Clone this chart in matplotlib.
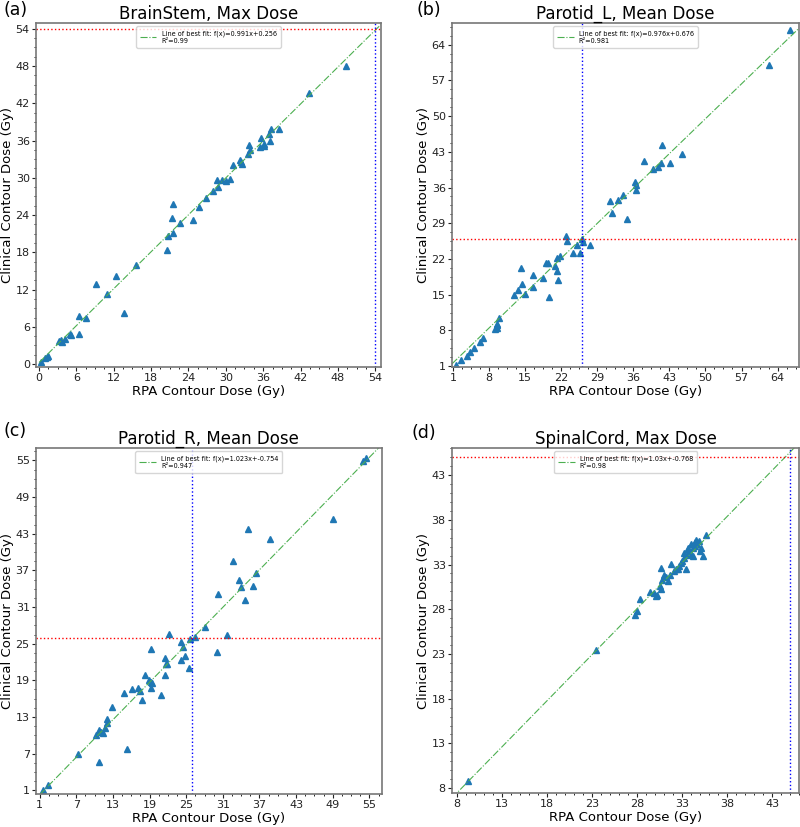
import numpy as np
import matplotlib
matplotlib.use("Agg")
import matplotlib.pyplot as plt

# BrainStem, Max Dose (RPA vs clinical)
brainstem_rpa = [0.27, 0.96, 1.44, 1.3, 3.26, 3.53, 3.74, 4.2, 4.9, 5.1, 6.4, 6.4, 7.6,
                 9.15, 10.97, 12.3, 13.7, 15.6, 20.5, 20.65, 21.3, 21.5, 21.5, 22.7,
                 24.7, 25.7, 26.8, 28.0, 28.8, 28.6, 29.4, 30.1, 30.7, 31.2, 32.3, 32.5,
                 32.6, 33.7, 33.6, 33.9, 35.5, 35.7, 36.1, 36.1, 37.0, 37.1, 37.3, 38.6,
                 43.4, 49.3]
brainstem_clin = [0.26, 0.9, 1.33, 1.1, 3.7, 3.8, 3.54, 4.1, 4.8, 4.76, 7.76, 4.87, 7.44,
                  12.9, 11.3, 14.2, 8.3, 16.0, 18.4, 20.7, 23.6, 25.7, 21.06, 22.7,
                  23.25, 25.3, 26.8, 27.9, 28.5, 29.7, 29.7, 29.5, 29.8, 32.0, 32.8, 32.6,
                  32.3, 35.3, 33.9, 34.5, 34.9, 36.4, 35.1, 35.5, 37.0, 36.0, 37.8, 37.8,
                  43.7, 47.96]

# Parotid_L, Mean Dose
parotid_l_rpa = [1.52, 2.5, 3.66, 4.24, 5.15, 6.2, 6.77, 9.16, 9.5, 9.5, 9.6, 9.9, 12.8,
                 13.6, 14.4, 14.1, 14.9, 16.5, 16.5, 18.4, 19.1, 19.4, 19.6, 20.7, 21.1,
                 21.4, 21.1, 21.7, 23.0, 23.1, 24.2, 25.1, 25.6, 26.1, 26.2, 27.6, 31.4,
                 31.8, 33.0, 33.95, 34.7, 36.4, 36.5, 36.5, 38.1, 39.9, 40.7, 41.3, 41.6,
                 43.1, 45.5, 62.3, 66.5]
parotid_l_clin = [1.14, 2.25, 2.9, 3.87, 4.5, 5.7, 6.6, 8.36, 8.5, 9.0, 9.3, 10.4, 14.9,
                  16.0, 17.0, 20.2, 15.1, 16.5, 18.8, 18.2, 21.2, 21.2, 14.55, 20.7, 19.7,
                  17.9, 22.2, 22.6, 26.5, 25.6, 23.1, 24.8, 23.1, 25.9, 25.3, 24.8, 33.3,
                  31.1, 33.6, 34.5, 29.9, 37.0, 36.4, 35.45, 41.2, 39.7, 40.0, 40.8, 44.4,
                  40.8, 42.5, 60.1, 66.9]

# Parotid_R, Mean Dose
parotid_r_rpa = [1.54, 2.3, 7.2, 10.7, 10.2, 10.7, 11.1, 11.4, 11.65, 12.0, 12.0, 12.9,
                 15.3, 14.75, 16.1, 17.1, 17.5, 17.7, 18.3, 18.9, 19.2, 19.4, 19.2, 19.2,
                 20.8, 21.5, 21.5, 21.7, 21.9, 22.2, 24.2, 24.2, 24.5, 24.8, 25.5, 25.7,
                 26.45, 28.1, 30.1, 30.25, 31.7, 32.6, 33.6, 33.9, 34.6, 35.1, 36.0, 36.5,
                 38.7, 49.1, 54.0, 54.4]
parotid_r_clin = [1.0, 1.9, 7.0, 5.7, 10.0, 10.9, 10.6, 10.4, 11.2, 12.0, 12.65, 14.6,
                  7.75, 16.9, 17.5, 17.7, 17.3, 15.7, 19.8, 19.0, 18.7, 18.5, 17.7, 24.2,
                  16.6, 19.8, 22.6, 21.7, 21.75, 26.6, 22.3, 25.2, 24.5, 23.0, 21.0, 25.8,
                  26.05, 27.7, 23.7, 33.2, 26.5, 38.5, 35.4, 34.2, 32.1, 43.8, 34.4, 36.5,
                  42.2, 45.4, 54.9, 55.4]

# SpinalCord, Max Dose
spinal_rpa = [9.26, 23.4, 27.8, 28.0, 28.3, 29.4, 29.9, 30.06, 30.2, 30.5, 30.7, 30.6,
              30.8, 31.0, 31.25, 31.4, 31.65, 31.8, 32.1, 32.3, 32.5, 32.7, 32.9, 33.0,
              33.2, 33.2, 33.4, 33.5, 33.65, 33.8, 33.95, 34.2, 34.2, 34.4, 34.5, 34.7,
              34.9, 34.95, 35.3, 35.1, 35.6, 33.7, 34.0, 34.4]
spinal_clin = [8.78, 23.5, 27.4, 27.8, 29.1, 29.9, 29.8, 29.5, 29.6, 30.6, 30.3, 32.6,
               31.3, 31.8, 31.6, 31.2, 31.8, 33.1, 32.3, 32.5, 32.5, 32.8, 33.2, 33.4,
               33.7, 34.3, 32.5, 34.1, 34.7, 34.3, 34.2, 33.9, 34.8, 35.5, 35.7, 35.3,
               35.6, 34.5, 34.0, 34.9, 36.3, 34.9, 35.3, 35.1]

titles = ["BrainStem, Max Dose", "Parotid_L, Mean Dose",
          "Parotid_R, Mean Dose", "SpinalCord, Max Dose"]
panel_tags = ["(a)", "(b)", "(c)", "(d)"]
fit_slopes = [0.991, 0.976, 1.023, 1.03]
fit_intercepts = [0.256, 0.676, -0.754, -0.768]
r_squared = ["0.99", "0.981", "0.947", "0.98"]
limits = [54, 26, 26, 45]
tick_sets = [np.arange(0, 55, 6), np.arange(1, 65, 7),
             np.arange(1, 56, 6), np.arange(8, 44, 5)]
axis_ranges = [(-0.5, 54.9), (0.8, 68.2), (0.4, 57.0), (7.45, 46.0)]
fit_starts = [0.0, 0.8, 1.0, 7.45]

data = [(brainstem_rpa, brainstem_clin), (parotid_l_rpa, parotid_l_clin),
        (parotid_r_rpa, parotid_r_clin), (spinal_rpa, spinal_clin)]

positions = [[0.045, 0.556, 0.431, 0.416],
             [0.565, 0.556, 0.434, 0.416],
             [0.045, 0.040, 0.432, 0.418],
             [0.565, 0.041, 0.434, 0.417]]
tag_pos = [(0.004, 0.999), (0.520, 0.999), (0.004, 0.490), (0.514, 0.487)]

fig = plt.figure(figsize=(8, 8.27), dpi=100)

for i in range(4):
    ax = fig.add_axes(positions[i])
    x, y = data[i]
    lo, hi = axis_ranges[i]

    ax.plot(x, y, "^", color="tab:blue", markersize=5, linestyle="none")
    xs = np.array([fit_starts[i], hi])
    fit_label = "Line of best fit: f(x)={}x+{}\nR²={}".format(
        fit_slopes[i], fit_intercepts[i], r_squared[i])
    ax.plot(xs, fit_slopes[i] * xs + fit_intercepts[i], color="#4caf50",
            linestyle="-.", linewidth=0.8, label=fit_label)
    ax.axhline(limits[i], color="red", linestyle=":", linewidth=1)
    ax.axvline(limits[i], color="blue", linestyle=":", linewidth=1)

    ax.set_xlim(lo, hi)
    ax.set_ylim(lo, hi)
    ax.set_xticks(tick_sets[i])
    ax.set_yticks(tick_sets[i])
    ax.minorticks_on()
    ax.tick_params(labelsize=8, colors="#222222", length=3, pad=1.5)
    ax.tick_params(which="minor", length=1.5)
    for sp in ax.spines.values():
        sp.set_color("#777777")
        sp.set_linewidth(1.2)

    ax.set_xlabel("RPA Contour Dose (Gy)", fontsize=9.5, labelpad=1)
    ax.set_ylabel("Clinical Contour Dose (Gy)", fontsize=9.5, labelpad=1)
    ax.set_title(titles[i], fontsize=12, pad=3)
    ax.legend(loc="upper center", fontsize=4.7, framealpha=0.8,
              borderpad=0.6, handlelength=2.5)
    fig.text(tag_pos[i][0], tag_pos[i][1], panel_tags[i], fontsize=12.5, va="top")

fig.savefig("out.png", dpi=100)
